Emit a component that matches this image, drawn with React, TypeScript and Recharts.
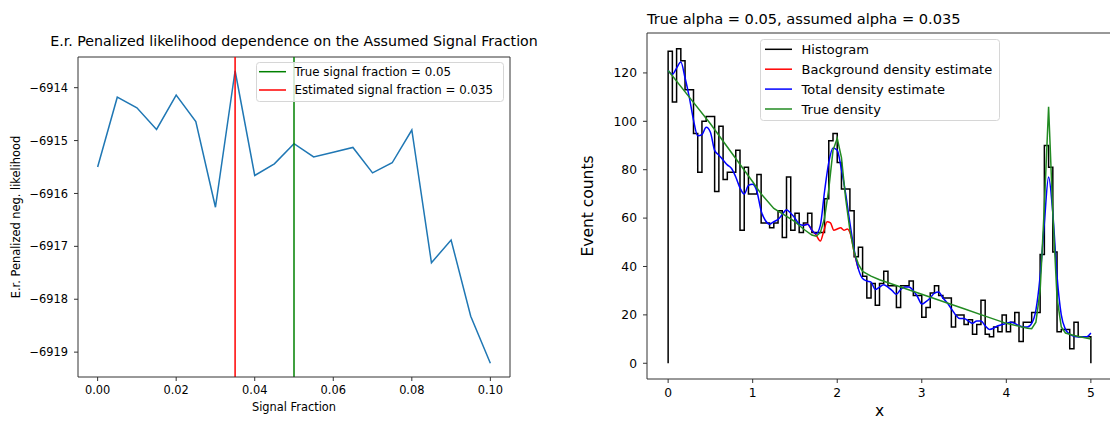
import React from 'react';
import { LineChart, Line, XAxis, YAxis, ReferenceLine } from 'recharts';

const FONT = '"DejaVu Sans", Verdana, sans-serif';

// ---- left panel: penalized likelihood vs assumed signal fraction
const signalFractions = [
  0, 0.005, 0.01, 0.015, 0.02, 0.025, 0.03, 0.035, 0.04, 0.045, 0.05,
  0.055, 0.06, 0.065, 0.07, 0.075, 0.08, 0.085, 0.09, 0.095, 0.1,
];
const penalizedNll = [
  -6915.5, -6914.18, -6914.38, -6914.79, -6914.14, -6914.64, -6916.26, -6913.68,
  -6915.66, -6915.44, -6915.06, -6915.31, -6915.22, -6915.13, -6915.61, -6915.42,
  -6914.8, -6917.31, -6916.88, -6918.32, -6919.21,
];
const trueFraction = 0.05;
const estimatedFraction = 0.035;
const fractionTicks = [0, 0.02, 0.04, 0.06, 0.08, 0.1];
const nllTicks = [-6919, -6918, -6917, -6916, -6915, -6914];
const fracDomain = [-0.005, 0.105];
const nllDomain = [-6919.47, -6913.42];

// ---- right panel: histogram and density curves
const binWidth = 0.05;
const histCounts = [
  129, 108, 130, 125, 113, 113, 95, 79, 100, 102,
  102, 71, 98, 76, 79, 79, 88, 55, 81, 70,
  70, 78, 58, 58, 56, 58, 63, 52, 77, 55,
  62, 54, 58, 62, 54, 54, 54, 68, 92, 95,
  83, 72, 72, 63, 44, 48, 36, 27, 33, 24,
  33, 38, 32, 32, 23, 32, 32, 34, 28, 28,
  19, 23, 29, 32, 28, 27, 27, 15, 20, 20,
  16, 18, 12, 16, 26, 12, 11, 15, 13, 20,
  13, 17, 21, 9, 17, 17, 21, 21, 45, 90,
  81, 46, 13, 14, 14, 6, 17, 11, 11, 11,
];
// total density estimate, sampled every 0.05 from 0 to 5
const totalDensity = [
  121, 119.5, 122, 124.5, 118, 110, 100.5, 94, 94.5, 97.5,
  95.5, 88, 86, 84, 82, 80.5, 77, 72.5, 70, 73.5,
  74, 71, 63, 59, 57.5, 58.5, 59.5, 61.5, 63.5, 62,
  60, 57.5, 57, 57.5, 55, 53.5, 57, 71, 83, 89,
  88, 80, 70, 58, 47, 39, 35, 34, 33.5, 30.5,
  31.5, 32.5, 31.5, 30, 28.5, 30.5, 31.5, 31.5, 30, 27.5,
  24.5, 25.5, 27, 29, 29.5, 27, 25, 22.5, 20, 18.5,
  18.5, 17.5, 16.5, 17.5, 17.5, 15.5, 14, 14.5, 15.5, 16,
  16.5, 17, 16.5, 15.5, 15, 15, 16.5, 22, 36, 58,
  77, 62, 36, 20, 14, 12, 11.2, 11, 11, 11,
  12.5,
];
const backgroundX = [1.6, 1.65, 1.7, 1.75, 1.8, 1.84, 1.88, 1.92, 1.96, 2.0, 2.04, 2.08, 2.12, 2.16, 2.2, 2.25];
const backgroundY = [57, 57.5, 55, 53, 50.5, 54.5, 58.5, 58, 55, 55.5, 56, 55, 55.5, 53, 46, 39];
const trueX = [
  0, 0.25, 0.5, 0.75, 1, 1.1, 1.25, 1.5, 1.6, 1.7, 1.75, 1.8, 1.85, 1.9, 1.95, 2.0,
  2.05, 2.1, 2.15, 2.2, 2.25, 2.3, 2.4, 2.5, 2.75, 3, 3.25, 3.5, 3.75, 4, 4.25, 4.3,
  4.35, 4.4, 4.45, 4.5, 4.55, 4.6, 4.65, 4.7, 4.8, 5,
];
const trueY = [
  121, 110, 99, 87, 75, 70, 64, 58.5, 55.5, 53, 52.5, 54, 60, 72, 88, 93,
  85, 68, 55, 46, 41, 38, 36, 34.5, 31.5, 28.5, 25.5, 22.5, 19.5, 16.5, 14.5, 14.3,
  17, 30, 65, 106, 62, 27, 15, 12.5, 11.5, 10,
];
const countTicks = [0, 20, 40, 60, 80, 100, 120];
const xTicks = [0, 1, 2, 3, 4, 5];
const xDomain = [-0.25, 5.25];
const countDomain = [-6.5, 136.5];

const legendLeft = [
  { label: 'True signal fraction = 0.05', color: 'green' },
  { label: 'Estimated signal fraction = 0.035', color: 'red' },
];
const legendRight = [
  { label: 'Histogram', color: 'black' },
  { label: 'Background density estimate', color: 'red' },
  { label: 'Total density estimate', color: 'blue' },
  { label: 'True density', color: '#228B22' },
];

const likelihoodData = signalFractions.map((f, i) => ({ frac: f, nll: penalizedNll[i] }));

const histData = [
  { x: 0, y: 0 },
  ...histCounts.map((c, i) => ({ x: i * binWidth, y: c })),
  { x: histCounts.length * binWidth, y: histCounts[histCounts.length - 1] },
  { x: histCounts.length * binWidth, y: 0 },
];
const totalData = totalDensity.map((v, i) => ({ x: i * binWidth, y: v }));
const backgroundData = backgroundX.map((x, i) => ({ x, y: backgroundY[i] }));
const trueData = trueX.map((x, i) => ({ x, y: trueY[i] }));

const AXIS = '#333';
const minus = (v: number) => (v < 0 ? '\u2212' + Math.abs(v) : String(v));

export default function App() {
  const tickL = { fill: '#000', fontSize: 11.4, fontFamily: FONT };
  const tickR = { fill: '#000', fontSize: 12.3, fontFamily: FONT };
  return (
    <div style={{ position: 'fixed', left: 0, top: 0, width: 1110, height: 421, overflow: 'hidden', background: '#fff', fontFamily: FONT }}>
      <div style={{ position: 'absolute', left: 0, top: 0 }}>
        <LineChart width={530} height={421} data={likelihoodData} margin={{ top: 57, right: 20, left: 0, bottom: 0 }}>
          <XAxis
            type="number" dataKey="frac" domain={fracDomain} ticks={fractionTicks}
            tickFormatter={(v: number) => v.toFixed(2)} height={44} tickSize={4} tickMargin={5}
            tick={tickL} stroke={AXIS} allowDataOverflow
            label={{ value: 'Signal Fraction', position: 'insideBottom', offset: 10, fill: '#000', fontSize: 11.4, fontFamily: FONT }}
          />
          <YAxis
            type="number" domain={nllDomain} ticks={nllTicks} tickFormatter={minus}
            width={78} tickSize={4} tickMargin={6} tick={tickL} stroke={AXIS} allowDataOverflow
            label={{ value: 'E.r. Penalized neg. likelihood', angle: -90, position: 'insideLeft', offset: 16, fill: '#000', fontSize: 11.4, fontFamily: FONT, style: { textAnchor: 'middle' } }}
          />
          <ReferenceLine y={nllDomain[1]} stroke={AXIS} strokeWidth={1} />
          <ReferenceLine x={fracDomain[1]} stroke={AXIS} strokeWidth={1} />
          <Line type="linear" dataKey="nll" stroke="#1f77b4" strokeWidth={1.5} dot={false} isAnimationActive={false} />
          <ReferenceLine x={trueFraction} stroke="green" strokeWidth={1.5} />
          <ReferenceLine x={estimatedFraction} stroke="red" strokeWidth={1.5} />
        </LineChart>
      </div>

      <div style={{ position: 'absolute', left: 560, top: 0 }}>
        <LineChart width={552} height={421} margin={{ top: 33, right: 0, left: 0, bottom: 0 }}>
          <XAxis
            type="number" dataKey="x" domain={xDomain} ticks={xTicks} height={42}
            tickSize={4} tickMargin={5} tick={tickR} stroke={AXIS} allowDataOverflow
            label={{ value: 'x', position: 'insideBottom', offset: 5, fill: '#000', fontSize: 15.5, fontFamily: FONT }}
          />
          <YAxis
            type="number" domain={countDomain} ticks={countTicks} width={87} tickSize={4} tickMargin={6}
            tick={tickR} stroke={AXIS} allowDataOverflow
            label={{ value: 'Event counts', angle: -90, position: 'insideLeft', offset: 27, fill: '#000', fontSize: 15.5, fontFamily: FONT, style: { textAnchor: 'middle' } }}
          />
          <ReferenceLine y={countDomain[1]} stroke={AXIS} strokeWidth={1} />
          <Line data={histData} type="stepAfter" dataKey="y" stroke="black" strokeWidth={1.5} dot={false} isAnimationActive={false} />
          <Line data={backgroundData} type="monotone" dataKey="y" stroke="red" strokeWidth={1.5} dot={false} isAnimationActive={false} />
          <Line data={totalData} type="monotone" dataKey="y" stroke="blue" strokeWidth={1.5} dot={false} isAnimationActive={false} />
          <Line data={trueData} type="linear" dataKey="y" stroke="#228B22" strokeWidth={1.5} dot={false} isAnimationActive={false} />
        </LineChart>
      </div>

      <svg width={1110} height={421} style={{ position: 'absolute', left: 0, top: 0, pointerEvents: 'none' }} fontFamily={FONT}>
        <text x={294} y={46} textAnchor="middle" fontSize={14.2} fill="#000">
          E.r. Penalized likelihood dependence on the Assumed Signal Fraction
        </text>
        <text x={647} y={23.5} textAnchor="start" fontSize={14.6} fill="#000">
          True alpha = 0.05, assumed alpha = 0.035
        </text>

        <rect x={256.5} y={62.5} width={247} height={39} rx={3} fill="#fff" fillOpacity={0.8} stroke="#d6d6d6" />
        {legendLeft.map((it, i) => (
          <g key={it.label}>
            <line x1={259} x2={286} y1={71.7 + i * 18.3} y2={71.7 + i * 18.3} stroke={it.color} strokeWidth={1.5} />
            <text x={294.5} y={71.7 + i * 18.3 + 4.3} fontSize={11.8} fill="#000">{it.label}</text>
          </g>
        ))}

        <rect x={760.5} y={39.5} width={239} height={81} rx={3} fill="#fff" fillOpacity={0.8} stroke="#d6d6d6" />
        {legendRight.map((it, i) => (
          <g key={it.label}>
            <line x1={765} x2={792} y1={49.3 + i * 19.9} y2={49.3 + i * 19.9} stroke={it.color} strokeWidth={1.5} />
            <text x={801.5} y={49.3 + i * 19.9 + 4.7} fontSize={13} fill="#000">{it.label}</text>
          </g>
        ))}
      </svg>
    </div>
  );
}
